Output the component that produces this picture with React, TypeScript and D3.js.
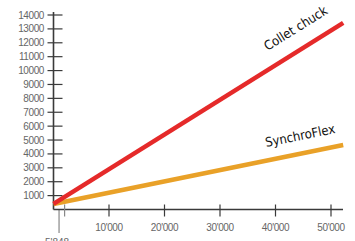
import { useRef, useEffect } from "react";
import * as d3 from "d3";

const yTicks = [1000, 2000, 3000, 4000, 5000, 6000, 7000, 8000, 9000, 10000, 11000, 12000, 13000, 14000];
const xTicks = [10000, 20000, 30000, 40000, 50000];
const minorTick = 2000;
const markerValue = 1000;
const markerLabel = "5'848";

const colletX = [0, 52200];
const colletY = [400, 13430];
const synchroX = [0, 52200];
const synchroY = [400, 4640];

const W = 355;
const H = 241;

export default function App() {
  const svgRef = useRef(null);

  function renderChart() {
    const svg = d3.select(svgRef.current);
    svg.selectAll("*").remove();

    const x = d3.scaleLinear().domain([0, 50000]).range([53.5, 331]);
    const y = d3.scaleLinear().domain([0, 14000]).range([209.5, 15]);

    const axisColor = "#3a3a3a";
    const labelColor = "#666";

    // marker line below origin
    svg
      .append("line")
      .attr("x1", x(markerValue))
      .attr("x2", x(markerValue))
      .attr("y1", y(0))
      .attr("y2", 233)
      .attr("stroke", "#888")
      .attr("stroke-width", 1.2);
    svg
      .append("text")
      .text(markerLabel)
      .attr("x", x(markerValue) - 2)
      .attr("y", 246)
      .attr("text-anchor", "middle")
      .attr("font-family", "Liberation Sans, Arial, sans-serif")
      .attr("font-size", 10)
      .attr("fill", labelColor);

    // y axis
    svg
      .append("line")
      .attr("x1", x(0))
      .attr("x2", x(0))
      .attr("y1", 12)
      .attr("y2", y(0))
      .attr("stroke", axisColor)
      .attr("stroke-width", 1.6);
    const yg = svg.selectAll("g.yt").data(yTicks).join("g").attr("class", "yt");
    yg.append("line")
      .attr("x1", x(0) - 6)
      .attr("x2", x(0) + 9)
      .attr("y1", (d) => y(d))
      .attr("y2", (d) => y(d))
      .attr("stroke", axisColor)
      .attr("stroke-width", 1.2);
    yg.append("text")
      .text((d) => d)
      .attr("x", 44)
      .attr("y", (d) => y(d))
      .attr("dy", "0.35em")
      .attr("text-anchor", "end")
      .attr("font-family", "Liberation Sans, Arial, sans-serif")
      .attr("font-size", 10)
      .attr("letter-spacing", -0.4)
      .attr("fill", labelColor);

    // x axis
    svg
      .append("line")
      .attr("x1", x(0))
      .attr("x2", 343)
      .attr("y1", y(0))
      .attr("y2", y(0))
      .attr("stroke", axisColor)
      .attr("stroke-width", 1.6);
    const xg = svg.selectAll("g.xt").data(xTicks).join("g").attr("class", "xt");
    xg.append("line")
      .attr("x1", (d) => x(d))
      .attr("x2", (d) => x(d))
      .attr("y1", y(0) - 5)
      .attr("y2", y(0) + 7)
      .attr("stroke", axisColor)
      .attr("stroke-width", 1.2);
    xg.append("text")
      .text((d) => d3.format(",")(d).replace(",", "'"))
      .attr("x", (d) => x(d))
      .attr("y", 231)
      .attr("text-anchor", "middle")
      .attr("font-family", "Liberation Sans, Arial, sans-serif")
      .attr("font-size", 10)
      .attr("letter-spacing", -0.4)
      .attr("fill", labelColor);
    svg
      .append("line")
      .attr("x1", x(minorTick))
      .attr("x2", x(minorTick))
      .attr("y1", y(0) - 5)
      .attr("y2", y(0) + 7)
      .attr("stroke", "#888")
      .attr("stroke-width", 1.2);

    const line = d3
      .line<[number, number]>()
      .x((d) => x(d[0]))
      .y((d) => y(d[1]));

    svg
      .append("path")
      .attr("d", line(d3.zip(synchroX, synchroY) as [number, number][]))
      .attr("stroke", "#e9a128")
      .attr("stroke-width", 4.5)
      .attr("fill", "none");
    svg
      .append("path")
      .attr("d", line(d3.zip(colletX, colletY) as [number, number][]))
      .attr("stroke", "#e52a2a")
      .attr("stroke-width", 4.5)
      .attr("fill", "none");

    const angle = (xs: number[], ys: number[]) =>
      (Math.atan2(y(ys[1]) - y(ys[0]), x(xs[1]) - x(xs[0])) * 180) / Math.PI;

    svg
      .append("text")
      .text("Collet chuck")
      .attr("transform", `translate(298,32) rotate(${angle(colletX, colletY)})`)
      .attr("text-anchor", "middle")
      .attr("font-family", "DejaVu Sans Condensed, DejaVu Sans, sans-serif")
      .attr("font-size", 13)
      .attr("fill", "#111");
    svg
      .append("text")
      .text("SynchroFlex")
      .attr("transform", `translate(301,140) rotate(${angle(synchroX, synchroY)})`)
      .attr("text-anchor", "middle")
      .attr("font-family", "DejaVu Sans Condensed, DejaVu Sans, sans-serif")
      .attr("font-size", 13)
      .attr("fill", "#111");
  }

  useEffect(() => {
    renderChart();
  }, []);

  return (
    <div style={{ position: "absolute", left: 0, top: 0 }}>
      <svg ref={svgRef} width={W} height={H} style={{ display: "block", background: "#fff" }} />
    </div>
  );
}
